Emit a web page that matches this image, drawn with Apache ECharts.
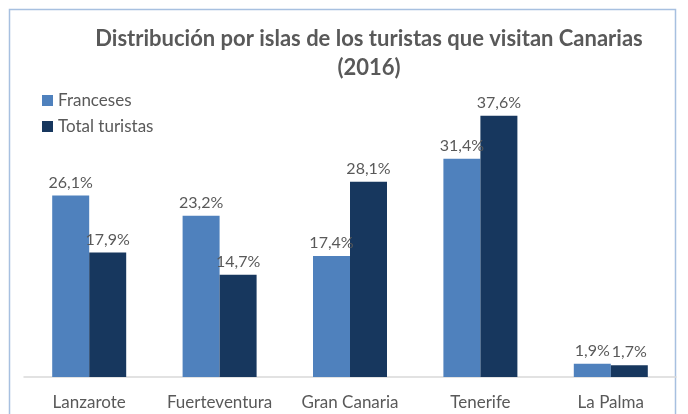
<!DOCTYPE html>
<html>
<head>
<meta charset="utf-8">
<script src="https://cdn.jsdelivr.net/npm/echarts@6/dist/echarts.min.js"></script>
<style>
html,body{margin:0;padding:0;background:#fff;}
#chart{width:688px;height:414px;}
</style>
</head>
<body>
<div id="chart"></div>
<script>
// datos
const islas = ['Lanzarote', 'Fuerteventura', 'Gran Canaria', 'Tenerife', 'La Palma'];
const franceses = [26.1, 23.2, 17.4, 31.4, 1.9];
const totalTuristas = [17.9, 14.7, 28.1, 37.6, 1.7];

const fuente = 'Lato, "Open Sans", sans-serif';
const gris = '#595959';

function etiqueta(p) {
	return p.value.toFixed(1).replace('.', ',') + '%';
}

let myChart = echarts.init(document.getElementById('chart'));
let option = {
	backgroundColor: '#fff',
	title: {
		text: 'Distribución por islas de los turistas que visitan Canarias\n(2016)',
		left: 364,
		textAlign: 'center',
		top: 19,
		textStyle: {
			fontFamily: fuente,
			fontSize: 22,
			fontWeight: 'bold',
			color: gris,
			lineHeight: 29
		}
	},
	legend: {
		orient: 'vertical',
		left: 37,
		top: 87,
		itemWidth: 11,
		itemHeight: 11,
		itemGap: 9,
		icon: 'rect',
		textStyle: { fontFamily: fuente, fontSize: 17, color: gris },
		data: ['Franceses', 'Total turistas']
	},
	graphic: [{
		type: 'rect',
		shape: { x: 9.5, y: 9.5, width: 666, height: 420 },
		style: { fill: 'none', stroke: '#a7c0e0', lineWidth: 1.5 },
		silent: true
	}],
	grid: { left: 24, right: 12, top: 99, bottom: 37 },
	xAxis: {
		type: 'category',
		data: islas,
		axisLine: { lineStyle: { color: '#d9d9d9', width: 1.5 } },
		axisTick: { show: false },
		axisLabel: { interval: 0, fontFamily: fuente, fontSize: 17, color: gris, margin: 17 }
	},
	yAxis: {
		type: 'value',
		min: 0,
		max: 40,
		show: false
	},
	series: [{
		name: 'Franceses',
		type: 'bar',
		data: franceses,
		barWidth: 37,
		barGap: '0%',
		itemStyle: { color: '#4f81bd' },
		label: { show: true, position: 'top', formatter: etiqueta, fontFamily: fuente, fontSize: 16, color: gris, distance: 5 }
	},
	{
		name: 'Total turistas',
		type: 'bar',
		data: totalTuristas,
		barWidth: 37,
		itemStyle: { color: '#17375e' },
		label: { show: true, position: 'top', formatter: etiqueta, fontFamily: fuente, fontSize: 16, color: gris, distance: 5 }
	}]
};
myChart.setOption(option);
</script>
</body>
</html>
